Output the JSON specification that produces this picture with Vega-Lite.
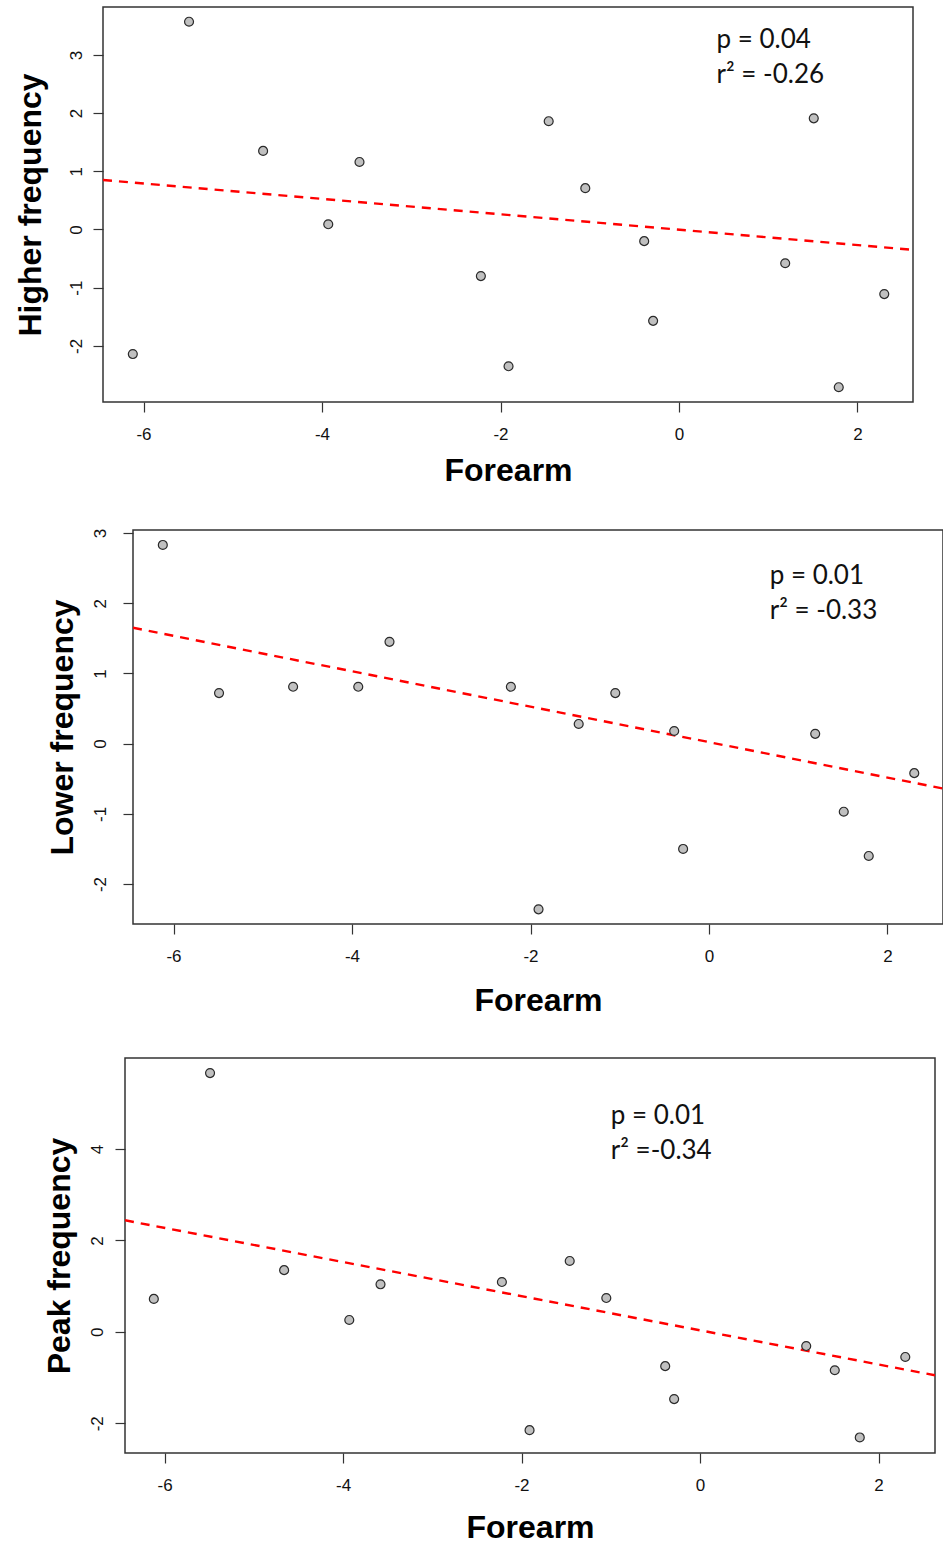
{
  "$schema": "https://vega.github.io/schema/vega-lite/v6.json",
  "background": "white",
  "padding": {"left": 0, "top": 6, "right": 0, "bottom": 0},
  "datasets": {
    "points": [
      {"panel": 1, "forearm": -6.12, "value": -2.14},
      {"panel": 1, "forearm": -5.49, "value": 3.57},
      {"panel": 1, "forearm": -4.66, "value": 1.35},
      {"panel": 1, "forearm": -3.93, "value": 0.09},
      {"panel": 1, "forearm": -3.58, "value": 1.16},
      {"panel": 1, "forearm": -2.22, "value": -0.8},
      {"panel": 1, "forearm": -1.91, "value": -2.35},
      {"panel": 1, "forearm": -1.46, "value": 1.86},
      {"panel": 1, "forearm": -1.05, "value": 0.71},
      {"panel": 1, "forearm": -0.39, "value": -0.2},
      {"panel": 1, "forearm": -0.29, "value": -1.57},
      {"panel": 1, "forearm": 1.19, "value": -0.58},
      {"panel": 1, "forearm": 1.51, "value": 1.91},
      {"panel": 1, "forearm": 1.79, "value": -2.71},
      {"panel": 1, "forearm": 2.3, "value": -1.11},
      {"panel": 2, "forearm": -6.12, "value": 2.83},
      {"panel": 2, "forearm": -5.49, "value": 0.72},
      {"panel": 2, "forearm": -4.66, "value": 0.81},
      {"panel": 2, "forearm": -3.93, "value": 0.81},
      {"panel": 2, "forearm": -3.58, "value": 1.45},
      {"panel": 2, "forearm": -2.22, "value": 0.81},
      {"panel": 2, "forearm": -1.91, "value": -2.36},
      {"panel": 2, "forearm": -1.46, "value": 0.28},
      {"panel": 2, "forearm": -1.05, "value": 0.72},
      {"panel": 2, "forearm": -0.39, "value": 0.18},
      {"panel": 2, "forearm": -0.29, "value": -1.5},
      {"panel": 2, "forearm": 1.19, "value": 0.14},
      {"panel": 2, "forearm": 1.51, "value": -0.97},
      {"panel": 2, "forearm": 1.79, "value": -1.6},
      {"panel": 2, "forearm": 2.3, "value": -0.42},
      {"panel": 3, "forearm": -6.12, "value": 0.72},
      {"panel": 3, "forearm": -5.49, "value": 5.66},
      {"panel": 3, "forearm": -4.66, "value": 1.35},
      {"panel": 3, "forearm": -3.93, "value": 0.26},
      {"panel": 3, "forearm": -3.58, "value": 1.04},
      {"panel": 3, "forearm": -2.22, "value": 1.09},
      {"panel": 3, "forearm": -1.91, "value": -2.15},
      {"panel": 3, "forearm": -1.46, "value": 1.55},
      {"panel": 3, "forearm": -1.05, "value": 0.74},
      {"panel": 3, "forearm": -0.39, "value": -0.75},
      {"panel": 3, "forearm": -0.29, "value": -1.47},
      {"panel": 3, "forearm": 1.19, "value": -0.31},
      {"panel": 3, "forearm": 1.51, "value": -0.84},
      {"panel": 3, "forearm": 1.79, "value": -2.31},
      {"panel": 3, "forearm": 2.3, "value": -0.55}
    ],
    "fits": [
      {"panel": 1, "forearm": -6.454, "value": 0.85},
      {"panel": 1, "forearm": 2.622, "value": -0.35},
      {"panel": 2, "forearm": -6.454, "value": 1.65},
      {"panel": 2, "forearm": 2.622, "value": -0.64},
      {"panel": 3, "forearm": -6.443, "value": 2.44},
      {"panel": 3, "forearm": 2.633, "value": -0.95}
    ],
    "notes": [
      {"panel": 1, "forearm": 0.42, "value": 3.12, "label": "p = 0.04"},
      {"panel": 1, "forearm": 0.42, "value": 2.52, "label": "r² = -0.26"},
      {"panel": 2, "forearm": 0.68, "value": 2.28, "label": "p = 0.01"},
      {"panel": 2, "forearm": 0.68, "value": 1.77, "label": "r² = -0.33"},
      {"panel": 3, "forearm": -1.0, "value": 4.54, "label": "p = 0.01"},
      {"panel": 3, "forearm": -1.0, "value": 3.77, "label": "r² =-0.34"}
    ]
  },
  "spacing": 40,
  "vconcat": [
    {
      "spacing": 0,
      "hconcat": [
        {"width": 13, "height": 10, "data": {"values": []}, "mark": {"type": "point", "opacity": 0}, "encoding": {}, "view": {"stroke": null, "fill": "white"}},
        {
          "width": 810, "height": 395,
          "encoding": {
            "x": {"field": "forearm", "type": "quantitative", "scale": {"domain": [-6.454, 2.622], "nice": false, "zero": false}, "axis": {"values": [-6, -4, -2, 0, 2], "title": "Forearm", "titlePadding": 13}},
            "y": {"field": "value", "type": "quantitative", "scale": {"domain": [-2.964, 3.823], "nice": false, "zero": false}, "axis": {"values": [-2, -1, 0, 1, 2, 3], "title": "Higher frequency", "labelPadding": 12, "titlePadding": 20}}
          },
          "layer": [
            {"data": {"name": "fits"}, "transform": [{"filter": "datum.panel == 1"}], "mark": {"type": "line", "color": "#ff0000", "strokeWidth": 2.4, "strokeDash": [9, 7], "clip": true}},
            {"data": {"name": "points"}, "transform": [{"filter": "datum.panel == 1"}], "mark": {"type": "circle", "size": 80, "fill": "#c0c0c0", "stroke": "#2a2a2a", "strokeWidth": 1.2, "opacity": 1}},
            {"data": {"name": "notes"}, "transform": [{"filter": "datum.panel == 1"}], "mark": {"type": "text", "align": "left", "baseline": "alphabetic", "font": "Lato", "fontSize": 26, "color": "#111"}, "encoding": {"text": {"field": "label"}}}
          ]
        }
      ]
    },
    {
      "spacing": 0,
      "hconcat": [
        {"width": 45, "height": 10, "data": {"values": []}, "mark": {"type": "point", "opacity": 0}, "encoding": {}, "view": {"stroke": null, "fill": "white"}},
        {
          "width": 810, "height": 394,
          "encoding": {
            "x": {"field": "forearm", "type": "quantitative", "scale": {"domain": [-6.454, 2.622], "nice": false, "zero": false}, "axis": {"values": [-6, -4, -2, 0, 2], "title": "Forearm", "titlePadding": 21}},
            "y": {"field": "value", "type": "quantitative", "scale": {"domain": [-2.569, 3.043], "nice": false, "zero": false}, "axis": {"values": [-2, -1, 0, 1, 2, 3], "title": "Lower frequency", "labelPadding": 18, "titlePadding": 12}}
          },
          "layer": [
            {"data": {"name": "fits"}, "transform": [{"filter": "datum.panel == 2"}], "mark": {"type": "line", "color": "#ff0000", "strokeWidth": 2.4, "strokeDash": [9, 7], "clip": true}},
            {"data": {"name": "points"}, "transform": [{"filter": "datum.panel == 2"}], "mark": {"type": "circle", "size": 80, "fill": "#c0c0c0", "stroke": "#2a2a2a", "strokeWidth": 1.2, "opacity": 1}},
            {"data": {"name": "notes"}, "transform": [{"filter": "datum.panel == 2"}], "mark": {"type": "text", "align": "left", "baseline": "alphabetic", "font": "Lato", "fontSize": 26, "color": "#111"}, "encoding": {"text": {"field": "label"}}}
          ]
        }
      ]
    },
    {
      "spacing": 0,
      "hconcat": [
        {"width": 42, "height": 10, "data": {"values": []}, "mark": {"type": "point", "opacity": 0}, "encoding": {}, "view": {"stroke": null, "fill": "white"}},
        {
          "width": 810, "height": 395,
          "encoding": {
            "x": {"field": "forearm", "type": "quantitative", "scale": {"domain": [-6.443, 2.633], "nice": false, "zero": false}, "axis": {"values": [-6, -4, -2, 0, 2], "title": "Forearm", "titlePadding": 19}},
            "y": {"field": "value", "type": "quantitative", "scale": {"domain": [-2.65, 5.99], "nice": false, "zero": false}, "axis": {"values": [-2, 0, 2, 4], "title": "Peak frequency", "labelPadding": 13, "titlePadding": 12}}
          },
          "layer": [
            {"data": {"name": "fits"}, "transform": [{"filter": "datum.panel == 3"}], "mark": {"type": "line", "color": "#ff0000", "strokeWidth": 2.4, "strokeDash": [9, 7], "clip": true}},
            {"data": {"name": "points"}, "transform": [{"filter": "datum.panel == 3"}], "mark": {"type": "circle", "size": 80, "fill": "#c0c0c0", "stroke": "#2a2a2a", "strokeWidth": 1.2, "opacity": 1}},
            {"data": {"name": "notes"}, "transform": [{"filter": "datum.panel == 3"}], "mark": {"type": "text", "align": "left", "baseline": "alphabetic", "font": "Lato", "fontSize": 26, "color": "#111"}, "encoding": {"text": {"field": "label"}}}
          ]
        }
      ]
    }
  ],
  "config": {
    "view": {"stroke": "#333", "strokeWidth": 1.5},
    "axis": {
      "grid": false, "domain": false, "ticks": true, "tickColor": "#333", "tickSize": 10, "tickWidth": 1.2,
      "labelFont": "Liberation Sans", "labelFontSize": 17, "labelColor": "#111",
      "labelExpr": "datum.value < 0 ? '-' + (-datum.value) : '' + datum.value",
      "titleFont": "Liberation Sans", "titleFontSize": 32, "titleFontWeight": "bold", "titleColor": "#000"
    },
    "axisX": {"labelPadding": 14},
    "axisY": {"labelAngle": -90, "labelAlign": "center", "labelBaseline": "alphabetic"}
  }
}
